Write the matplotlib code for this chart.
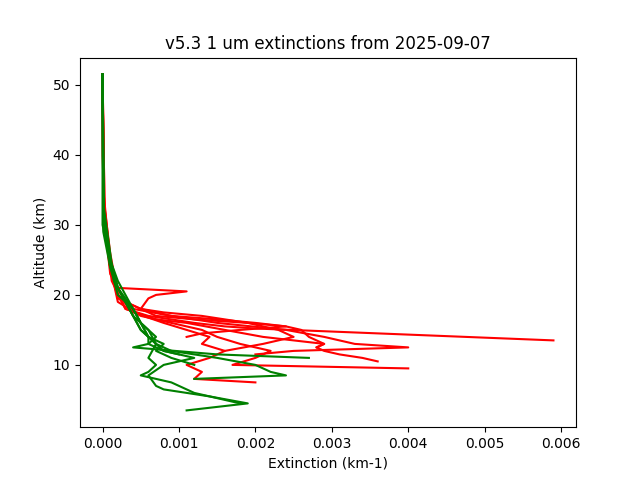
import matplotlib
matplotlib.use('Agg')
import matplotlib.pyplot as plt

# red profiles (altitude km, extinction km-1)
red_alt = [
    [51.5, 40, 30, 25, 22, 20, 18, 17, 16, 15.5, 15.2, 13.5],
    [51.5, 35, 25, 21, 20.5, 20, 19.5, 18, 17, 16, 15, 14, 13, 12.5, 12, 11.5],
    [51.5, 30, 22, 18, 16.5, 16, 15, 14, 13, 12.5, 12, 11.5, 11, 10.5],
    [51.5, 32, 24, 19, 17, 16, 15, 14, 13, 12, 11, 10, 9.5],
    [51.5, 33, 25, 20, 17.5, 16, 15, 14, 13, 12, 11, 10, 9, 8, 7.5],
    [51.5, 31, 23, 19, 17, 16.5, 16, 15.5, 15, 14, 13, 12.5],
    [51.5, 34, 26, 20, 18, 17, 16.5, 16, 15.5, 15, 14.5, 14],
    [51.5, 30, 24, 19.5, 18, 17.5, 17, 16, 15, 14, 13, 12],
]
red_ext = [
    [0, 0, 0.00003, 0.0001, 0.00015, 0.0002, 0.0003, 0.0006, 0.0012, 0.0016, 0.0020, 0.0059],
    [0, 0.00001, 0.0001, 0.0002, 0.0011, 0.0007, 0.0006, 0.0005, 0.0009, 0.0015, 0.0024, 0.0029, 0.0033, 0.0040, 0.0025, 0.0020],
    [0, 0.00003, 0.00012, 0.0003, 0.0007, 0.0011, 0.0016, 0.0021, 0.0029, 0.0028, 0.0029, 0.0031, 0.0034, 0.0036],
    [0, 0.00002, 0.0001, 0.0002, 0.0005, 0.0009, 0.0013, 0.0015, 0.0018, 0.0022, 0.0020, 0.0017, 0.0040],
    [0, 0.00002, 0.0001, 0.0002, 0.0004, 0.0008, 0.0011, 0.0014, 0.0013, 0.0016, 0.0014, 0.0011, 0.0013, 0.0012, 0.0020],
    [0, 0.00002, 0.0001, 0.0003, 0.0007, 0.0012, 0.0019, 0.0024, 0.0026, 0.0027, 0.0029, 0.0028],
    [0, 0.00001, 0.0001, 0.0002, 0.0004, 0.0009, 0.0015, 0.0020, 0.0024, 0.0018, 0.0013, 0.0011],
    [0, 0.00003, 0.0001, 0.0002, 0.0005, 0.0008, 0.0013, 0.0019, 0.0023, 0.0025, 0.0021, 0.0016],
]

# green profiles
green_alt = [
    [51.5, 30, 25, 22, 20, 18, 16, 14, 13, 12, 11, 10, 9, 8.5, 8],
    [51.5, 32, 25, 21, 19, 17, 15, 13, 12, 11, 10, 8.5, 7, 6.5, 5.5, 4.5, 3.5],
    [51.5, 31, 24, 21, 19, 17, 15, 14, 13, 12.5, 11.5, 11],
    [51.5, 33, 26, 22, 19, 17, 15, 13, 11, 10, 9, 8.5, 7.5, 6, 5, 4.5],
    [51.5, 30, 25, 21, 18, 16, 14, 13, 12, 11, 10],
    [51.5, 29, 24, 20, 18, 16, 15, 14, 13, 12, 11.5],
]
green_ext = [
    [0, 0, 0.0001, 0.0002, 0.0003, 0.0004, 0.0005, 0.0006, 0.0007, 0.0009, 0.0015, 0.0020, 0.0022, 0.0024, 0.0012],
    [0, 0.00001, 0.0001, 0.0002, 0.0003, 0.0004, 0.0005, 0.0007, 0.0008, 0.0012, 0.0008, 0.0006, 0.0007, 0.0008, 0.0014, 0.0019, 0.0011],
    [0, 0.00002, 0.0001, 0.0002, 0.0003, 0.0004, 0.0005, 0.0006, 0.0006, 0.0004, 0.0015, 0.0027],
    [0, 0.00001, 0.0001, 0.00015, 0.0003, 0.0004, 0.0006, 0.0007, 0.0006, 0.0007, 0.0006, 0.0005, 0.0009, 0.0012, 0.0016, 0.0018],
    [0, 0.00002, 0.0001, 0.0002, 0.0004, 0.0005, 0.0006, 0.0008, 0.0007, 0.0009, 0.0012],
    [0, 0.00001, 0.0001, 0.0002, 0.0004, 0.0005, 0.0006, 0.0007, 0.0006, 0.0008, 0.0010],
]

fig, ax = plt.subplots(figsize=(6.4, 4.8), dpi=100)
for a, e in zip(red_alt, red_ext):
    ax.plot(e, a, 'r-')
for a, e in zip(green_alt, green_ext):
    ax.plot(e, a, 'g-')
ax.set_xlabel('Extinction (km-1)')
ax.set_ylabel('Altitude (km)')
ax.set_title('v5.3 1 um extinctions from 2025-09-07')
fig.savefig('out.png')
